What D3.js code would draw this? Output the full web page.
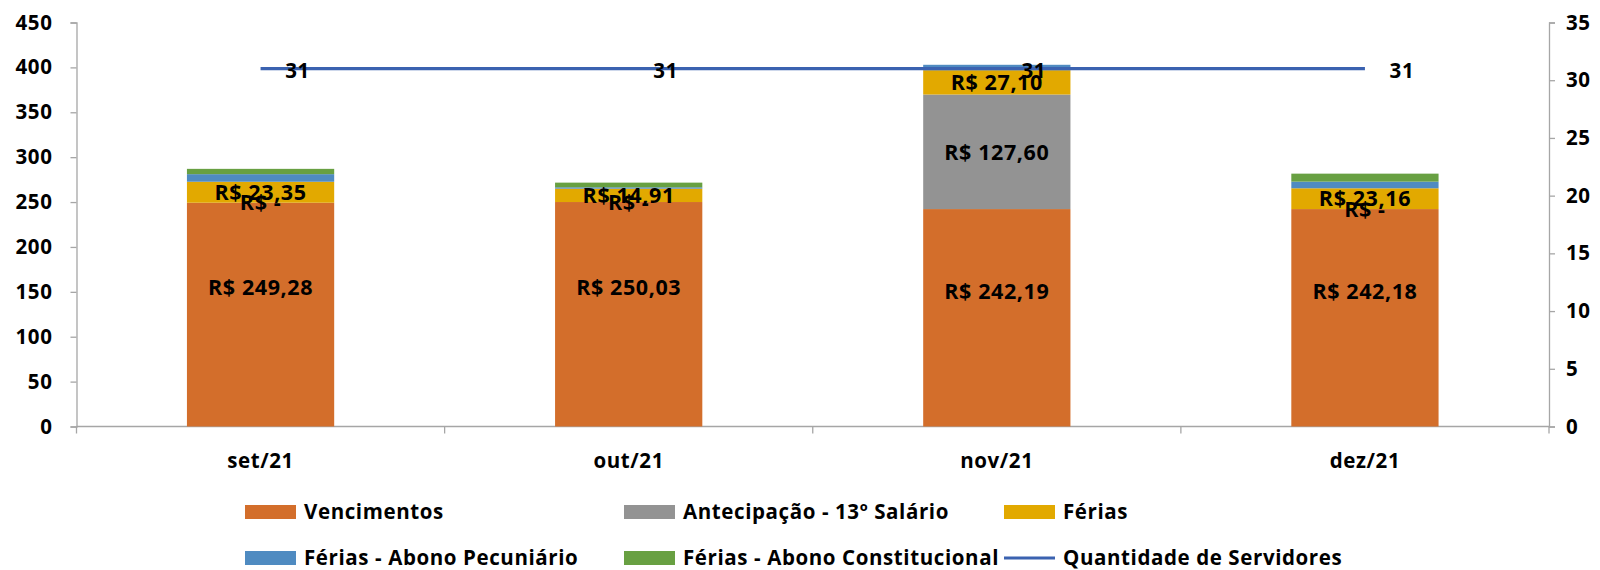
<!DOCTYPE html>
<html lang="pt">
<head>
    <meta charset="utf-8">
    <title>Folha</title>
    <script type="text/javascript" src="https://cdn.jsdelivr.net/npm/d3@7"></script>
    <style>
        body { margin: 0; background: #fff; }
        text { font-family: "Open Sans", sans-serif; font-weight: bold; fill: #000; letter-spacing: 0.6px; }
    </style>
</head>
<body>
    <svg width="1600" height="570"></svg>
    <script>
        // dados
        var meses = ["set/21", "out/21", "nov/21", "dez/21"];
        var vencimentos = [249.28, 250.03, 242.19, 242.18];
        var antecipacao = [0, 0, 127.60, 0];
        var ferias = [23.35, 14.91, 27.10, 23.16];
        var abonoPecuniario = [8.45, 1.5, 6.0, 7.4];
        var abonoConstitucional = [5.9, 5.2, 0, 8.9];
        var servidores = [31, 31, 31, 31];
        var ticksEsq = [0, 50, 100, 150, 200, 250, 300, 350, 400, 450];
        var ticksDir = [0, 5, 10, 15, 20, 25, 30, 35];

        var series = [
            { nome: "Vencimentos", valores: vencimentos, cor: "#d36e2b", rotulo: true },
            { nome: "Antecipação - 13º Salário", valores: antecipacao, cor: "#939393", rotulo: true },
            { nome: "Férias", valores: ferias, cor: "#e2a900", rotulo: true },
            { nome: "Férias - Abono Pecuniário", valores: abonoPecuniario, cor: "#4f8bc1", rotulo: false },
            { nome: "Férias - Abono Constitucional", valores: abonoConstitucional, cor: "#68a042", rotulo: false }
        ];
        var corLinha = "#3b62b0";

        var svg = d3.select("svg");
        var x = d3.scaleBand().domain(meses).range([76.5, 1549]);
        var y = d3.scaleLinear().domain([0, 450]).range([426.5, 22.5]);
        var y2 = d3.scaleLinear().domain([0, 35]).range([426.5, 22.5]);
        var larg = x.bandwidth() * 0.4;

        function fmt(v) {
            if (v === 0) return "R$  -";
            return "R$ " + v.toFixed(2).replace(".", ",");
        }

        // eixos
        var eixoEsq = svg.append("g").attr("transform", "translate(76.5,0)")
            .call(d3.axisLeft(y).tickValues(ticksEsq).tickSize(6).tickPadding(18));
        var eixoDir = svg.append("g").attr("transform", "translate(1549,0)")
            .call(d3.axisRight(y2).tickValues(ticksDir).tickSize(6).tickPadding(11));
        var eixoX = svg.append("g").attr("transform", "translate(0,426.5)")
            .call(d3.axisBottom(x).tickSize(0).tickPadding(27));
        [eixoEsq, eixoDir, eixoX].forEach(function (g) {
            g.select(".domain").attr("stroke", "#a6a6a6").attr("stroke-width", 1.3);
            g.selectAll(".tick line").attr("stroke", "#a6a6a6").attr("stroke-width", 1.3);
            g.selectAll("text").style("font-size", "20.5px").attr("fill", "#000");
        });
        eixoX.select(".domain").attr("d", "M76.5,0H1549");
        // marcas entre categorias
        var limites = meses.map(function (m) { return x(m); }).concat([x.range()[1]]);
        eixoX.selectAll(".sep").data(limites).enter().append("line")
            .attr("x1", function (d) { return d; }).attr("x2", function (d) { return d; })
            .attr("y1", 0).attr("y2", 7).attr("stroke", "#a6a6a6").attr("stroke-width", 1.3);

        // barras empilhadas
        var base = meses.map(function () { return 0; });
        var rotulos = [];
        series.forEach(function (s) {
            s.valores.forEach(function (v, i) {
                var y0 = base[i], y1 = base[i] + v;
                svg.append("rect")
                    .attr("x", x(meses[i]) + (x.bandwidth() - larg) / 2)
                    .attr("width", larg)
                    .attr("y", y(y1))
                    .attr("height", y(y0) - y(y1))
                    .attr("fill", s.cor);
                if (s.rotulo) {
                    var yy = s.nome === "Vencimentos" ? y(v * 0.62) : y((y0 + y1) / 2);
                    rotulos.push({ x: x(meses[i]) + x.bandwidth() / 2, y: yy, t: fmt(v) });
                }
                base[i] = y1;
            });
        });

        // linha de servidores
        var linha = d3.line()
            .x(function (d, i) { return x(meses[i]) + x.bandwidth() / 2; })
            .y(function (d) { return y2(d); });
        svg.append("path").datum(servidores)
            .attr("d", linha).attr("fill", "none")
            .attr("stroke", corLinha).attr("stroke-width", 3.2);

        svg.selectAll(".rot").data(rotulos).enter().append("text")
            .attr("x", function (d) { return d.x; })
            .attr("y", function (d) { return d.y; })
            .attr("dy", "0.36em")
            .attr("text-anchor", "middle")
            .style("font-size", "21.5px")
            .text(function (d) { return d.t; });

        svg.selectAll(".qtd").data(servidores).enter().append("text")
            .attr("x", function (d, i) { return x(meses[i]) + x.bandwidth() / 2 + 37; })
            .attr("y", function (d) { return y2(d) + 2; })
            .attr("dy", "0.36em")
            .attr("text-anchor", "middle")
            .style("font-size", "20.5px")
            .text(function (d) { return d; });

        // legenda
        var itens = series.map(function (s) { return { nome: s.nome, cor: s.cor, tipo: "box" }; });
        itens.push({ nome: "Quantidade de Servidores", cor: corLinha, tipo: "line" });
        var colX = [245, 624, 1004];
        var linY = [512, 558];
        var leg = svg.selectAll(".leg").data(itens).enter().append("g")
            .attr("transform", function (d, i) {
                return "translate(" + colX[i % 3] + "," + linY[Math.floor(i / 3)] + ")";
            });
        leg.each(function (d) {
            var g = d3.select(this);
            if (d.tipo === "box") {
                g.append("rect").attr("x", 0).attr("y", -7).attr("width", 51).attr("height", 14).attr("fill", d.cor);
            } else {
                g.append("line").attr("x1", 0).attr("x2", 51).attr("y1", 0).attr("y2", 0)
                    .attr("stroke", d.cor).attr("stroke-width", 3.2);
            }
            g.append("text").attr("x", 59).attr("y", 0).attr("dy", "0.36em")
                .style("font-size", "20.5px").text(d.nome);
        });
    </script>
</body>
</html>
